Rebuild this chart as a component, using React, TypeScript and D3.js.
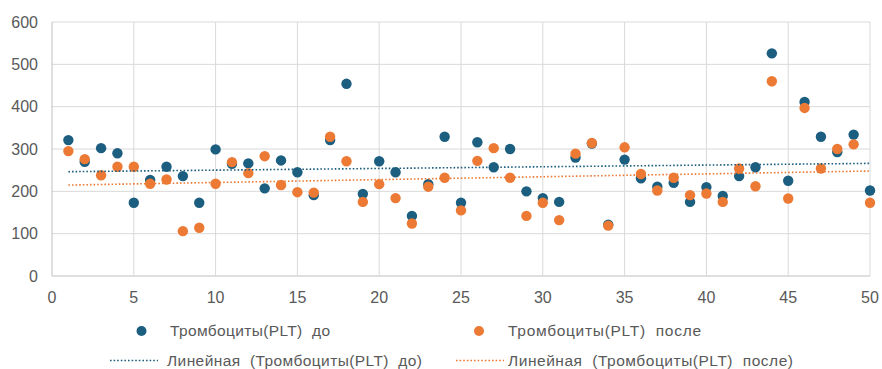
import React, { useMemo } from "react";
import * as d3 from "d3";

// Тромбоциты (PLT) до / после, по пациентам 1..50
const BEFORE = [
  321, 270, 302, 290, 173, 227, 258, 236, 173, 299,
  265, 266, 207, 273, 245, 191, 321, 454, 194, 271,
  245, 142, 217, 329, 173, 316, 257, 300, 200, 184,
  175, 280, 313, 121, 275, 231, 211, 220, 175, 210,
  189, 236, 257, 526, 225, 411, 329, 293, 334, 202,
];
const AFTER = [
  295, 276, 238, 258, 258, 218, 228, 106, 114, 218,
  269, 243, 283, 215, 198, 197, 329, 271, 175, 217,
  184, 124, 211, 232, 155, 272, 302, 232, 142, 173,
  132, 289, 314, 119, 304, 241, 202, 232, 191, 195,
  175, 254, 212, 460, 183, 397, 254, 300, 311, 173,
];
const Y_TICKS = [0, 100, 200, 300, 400, 500, 600];
const X_TICKS = [0, 5, 10, 15, 20, 25, 30, 35, 40, 45, 50];

const NB = "\u00a0";
const SERIES = [
  { name: `Тромбоциты(PLT)${NB}${NB}до`, values: BEFORE, color: "#1c5e7f" },
  { name: `Тромбоциты(PLT)${NB}${NB}после`, values: AFTER, color: "#ec7a35" },
];
const TREND_PREFIX = `Линейная${NB}${NB}(`;

const W = 882;
const H = 369;
const FONT = "'Liberation Sans', Arial, sans-serif";

function linreg(vals: number[]) {
  const xs = vals.map((_, i) => i + 1);
  const mx = d3.mean(xs)!;
  const my = d3.mean(vals)!;
  let sxy = 0, sxx = 0;
  xs.forEach((x, i) => {
    sxy += (x - mx) * (vals[i] - my);
    sxx += (x - mx) * (x - mx);
  });
  const b = sxy / sxx;
  return { a: my - b * mx, b };
}

export default function App() {
  const x = d3.scaleLinear().domain([0, 50]).range([52, 870]);
  const y = d3.scaleLinear().domain([0, 600]).range([276, 22]);

  const trends = useMemo(() => SERIES.map((s) => linreg(s.values)), []);
  const line = d3.line<[number, number]>().x((d) => x(d[0])).y((d) => y(d[1]));

  return (
    <div style={{ position: "absolute", left: 0, top: 0 }}>
      <svg width={W} height={H} style={{ display: "block", background: "#fff" }}>
        {/* grid */}
        {Y_TICKS.map((t) => (
          <line key={"gy" + t} x1={x(0)} x2={x(50)} y1={y(t)} y2={y(t)}
            stroke={t === 0 ? "#bfbfbf" : "#d9d9d9"} strokeWidth={1} />
        ))}
        {X_TICKS.map((t) => (
          <line key={"gx" + t} x1={x(t)} x2={x(t)} y1={y(0)} y2={y(600)}
            stroke={t === 0 ? "#bfbfbf" : "#d9d9d9"} strokeWidth={1} />
        ))}

        {/* axis labels */}
        {Y_TICKS.map((t) => (
          <text key={"ly" + t} x={38} y={y(t)} dy="0.35em" textAnchor="end"
            fontFamily={FONT} fontSize={16} fill="#595959">{t}</text>
        ))}
        {X_TICKS.map((t) => (
          <text key={"lx" + t} x={x(t)} y={297} dy="0.35em" textAnchor="middle"
            fontFamily={FONT} fontSize={16} fill="#595959">{t}</text>
        ))}

        {/* points */}
        {SERIES.map((s) => (
          <g key={s.name}>
            {s.values.map((v, i) => (
              <circle key={i} cx={x(i + 1)} cy={y(v)} r={5.2} fill={s.color} />
            ))}
          </g>
        ))}

        {/* trend lines */}
        {SERIES.map((s, k) => {
          const { a, b } = trends[k];
          const pts: [number, number][] = [[1, a + b], [50, a + b * 50]];
          return (
            <path key={"tr" + k} d={line(pts) || ""} fill="none" stroke={s.color}
              strokeWidth={1.6} strokeDasharray="1.6 2" />
          );
        })}

        {/* legend */}
        <g fontFamily={FONT} fontSize={15.5} fill="#595959">
          <circle cx={141.5} cy={331} r={5} fill={SERIES[0].color} />
          <text x={170} y={331} dy="0.35em" textLength={160} lengthAdjust="spacing">{SERIES[0].name}</text>
          <circle cx={479} cy={331} r={5} fill={SERIES[1].color} />
          <text x={508} y={331} dy="0.35em" textLength={193} lengthAdjust="spacing">{SERIES[1].name}</text>

          <line x1={110} x2={158} y1={360.5} y2={360.5} stroke={SERIES[0].color}
            strokeWidth={1.6} strokeDasharray="1.6 2" />
          <text x={167} y={360.5} dy="0.35em" textLength={255} lengthAdjust="spacing">{TREND_PREFIX + SERIES[0].name + ")"}</text>
          <line x1={456} x2={504} y1={360.5} y2={360.5} stroke={SERIES[1].color}
            strokeWidth={1.6} strokeDasharray="1.6 2" />
          <text x={508} y={360.5} dy="0.35em" textLength={285} lengthAdjust="spacing">{TREND_PREFIX + SERIES[1].name + ")"}</text>
        </g>
      </svg>
    </div>
  );
}
